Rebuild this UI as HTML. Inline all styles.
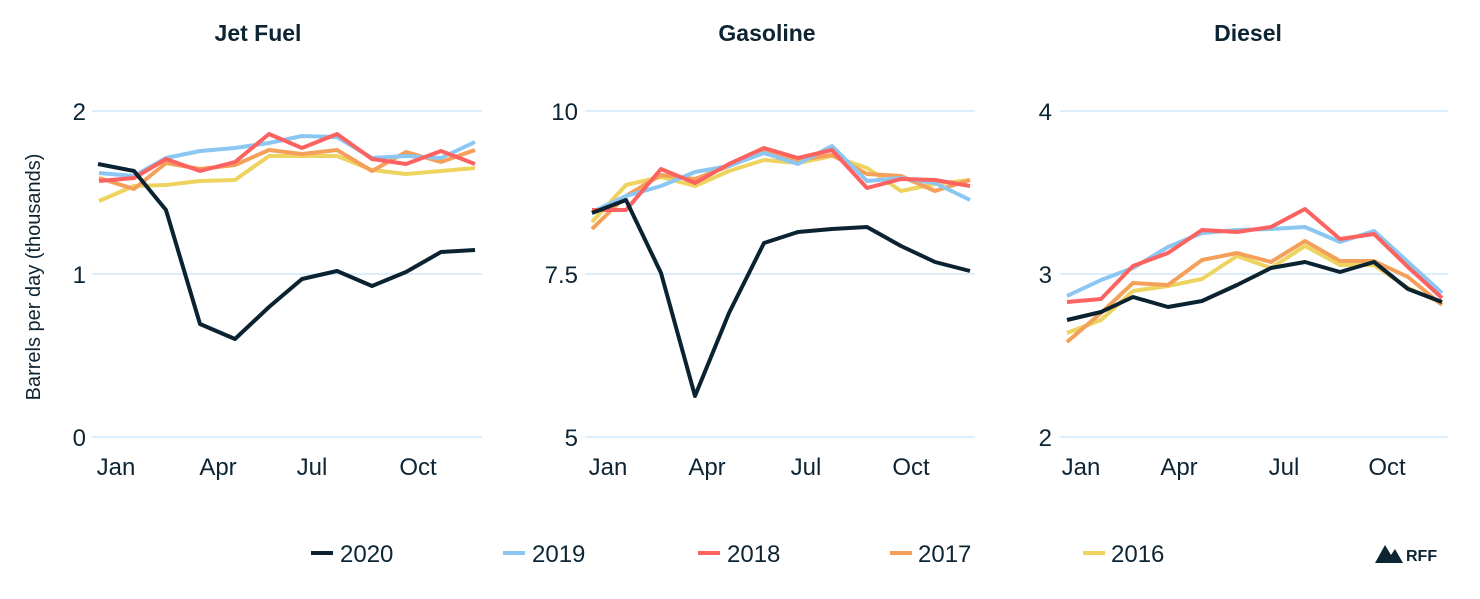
<!DOCTYPE html>
<html><head><meta charset="utf-8"><style>
html,body{margin:0;padding:0;background:#fff;}
svg text{font-family:"Liberation Sans",sans-serif;fill:#0d2433;}
</style></head><body>
<svg width="1480" height="594" viewBox="0 0 1480 594" xmlns="http://www.w3.org/2000/svg">
<g font-weight="bold" font-size="23" text-anchor="middle">
<text x="258" y="41">Jet Fuel</text>
<text x="767" y="41">Gasoline</text>
<text x="1248" y="41">Diesel</text>
</g>
<g stroke="#dceefb" stroke-width="2">
<line x1="92" y1="111" x2="482" y2="111"/><line x1="92" y1="274" x2="482" y2="274"/><line x1="92" y1="437" x2="482" y2="437"/>
<line x1="585" y1="111" x2="975" y2="111"/><line x1="585" y1="274" x2="975" y2="274"/><line x1="585" y1="437" x2="975" y2="437"/>
<line x1="1060" y1="111" x2="1448" y2="111"/><line x1="1060" y1="274" x2="1448" y2="274"/><line x1="1060" y1="437" x2="1448" y2="437"/>
</g>
<g font-size="24" text-anchor="end">
<text x="86" y="120">2</text><text x="86" y="283">1</text><text x="86" y="446">0</text>
<text x="578" y="120">10</text><text x="578" y="283">7.5</text><text x="578" y="446">5</text>
<text x="1052" y="120">4</text><text x="1052" y="283">3</text><text x="1052" y="446">2</text>
</g>
<g font-size="24" text-anchor="middle">
<text x="116" y="475">Jan</text><text x="218" y="475">Apr</text><text x="312" y="475">Jul</text><text x="418" y="475">Oct</text>
<text x="608" y="475">Jan</text><text x="707" y="475">Apr</text><text x="806" y="475">Jul</text><text x="911" y="475">Oct</text>
<text x="1081" y="475">Jan</text><text x="1179" y="475">Apr</text><text x="1284" y="475">Jul</text><text x="1387" y="475">Oct</text>
</g>
<text x="0" y="0" font-size="20" text-anchor="middle" transform="translate(40,277) rotate(-90)">Barrels per day (thousands)</text>
<g fill="none" stroke-width="4" stroke-linejoin="round">
<polyline stroke="#eed35f" points="99,201 134,186 166,185 200,181 235,180 269,156 302,156 337,156 372,170 406,174 441,171 475,168"/>
<polyline stroke="#f5a05a" points="99,178 134,189 166,163 200,169 235,165 269,150 302,154 337,150 372,171 406,152 441,162 475,150"/>
<polyline stroke="#8cc6f2" points="99,173 134,176 166,158 200,151 235,148 269,143 302,136 337,137 372,158 406,156 441,158 475,142"/>
<polyline stroke="#fb6260" points="99,181 134,178 166,159 200,171 235,162 269,134 302,148 337,134 372,159 406,164 441,151 475,164"/>
<polyline stroke="#0b2230" points="98,164 134,171 166,210 200,324 235,339 269,307 302,279 337,271 372,286 406,272 441,252 475,250"/>
<polyline stroke="#eed35f" points="592,222 626,185 661,177 695,186 729,171 764,160 798,163 832,156 867,168 901,191 935,184 970,180"/>
<polyline stroke="#f5a05a" points="592,229 626,196 661,175 695,179 729,166 764,152 798,160 832,155 867,174 901,176 935,191 970,180"/>
<polyline stroke="#8cc6f2" points="592,212 626,196 661,186 695,172 729,166 764,153 798,164 832,146 867,181 901,178 935,183 970,200"/>
<polyline stroke="#fb6260" points="592,210 626,210 661,169 695,183 729,164 764,148 798,158 832,150 867,188 901,179 935,180 970,186"/>
<polyline stroke="#0b2230" points="592,213 626,200 661,273 695,396 729,313 764,243 798,232 832,229 867,227 901,246 935,262 970,271"/>
<polyline stroke="#eed35f" points="1067,333 1101,320 1133,291 1168,286 1202,279 1237,256 1271,268 1305,246 1340,265 1374,265 1408,288 1442,303"/>
<polyline stroke="#f5a05a" points="1067,342 1101,313 1133,283 1168,285 1202,260 1237,253 1271,262 1305,241 1340,261 1374,261 1408,277 1442,305"/>
<polyline stroke="#8cc6f2" points="1067,296 1101,280 1133,268 1168,247 1202,233 1237,230 1271,229 1305,227 1340,242 1374,231 1408,262 1442,293"/>
<polyline stroke="#fb6260" points="1067,302 1101,299 1133,266 1168,253 1202,230 1237,232 1271,227 1305,209 1340,239 1374,234 1408,267 1442,298"/>
<polyline stroke="#0b2230" points="1067,320 1101,312 1133,297 1168,307 1202,301 1237,285 1271,268 1305,262 1340,272 1374,262 1408,289 1442,302"/>
</g>
<g stroke-width="4">
<line x1="311" y1="553" x2="333" y2="553" stroke="#0b2230"/>
<line x1="503" y1="553" x2="525" y2="553" stroke="#8cc6f2"/>
<line x1="698" y1="553" x2="720" y2="553" stroke="#fb6260"/>
<line x1="890" y1="553" x2="912" y2="553" stroke="#f5a05a"/>
<line x1="1083" y1="553" x2="1105" y2="553" stroke="#eed35f"/>
</g>
<g font-size="24">
<text x="340" y="562">2020</text><text x="532" y="562">2019</text><text x="727" y="562">2018</text><text x="918" y="562">2017</text><text x="1111" y="562">2016</text>
</g>
<polygon points="1375,563 1385,545 1391,555 1395,549 1403,563" fill="#0d2433"/>
<text x="1406" y="561" font-size="16" font-weight="bold">RFF</text>
</svg>
</body></html>
